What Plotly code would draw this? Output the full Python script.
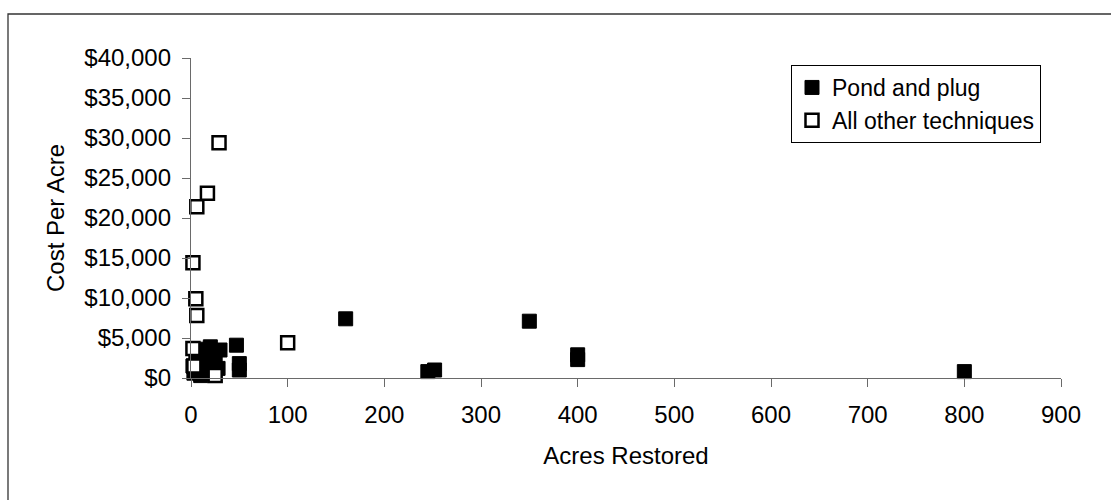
import plotly.graph_objects as go

# Pond and plug (filled squares)
pond_acres = [160, 350, 400, 400, 245, 252, 800, 47, 50, 50, 30, 20,
              5, 8, 10, 12, 15, 18, 22, 25, 3, 6, 10, 14, 28, 2, 20, 12]
pond_cost = [7400, 7100, 2900, 2300, 800, 1000, 800, 4100, 1800, 1000, 3500, 3900,
             2000, 1200, 500, 2600, 1500, 3000, 1000, 1800, 600, 900, 300, 800, 1200, 1500, 2200, 3600]

# All other techniques (open squares)
other_acres = [29, 17, 6, 2, 5, 6, 2, 100, 25, 3]
other_cost = [29400, 23100, 21400, 14400, 9900, 7800, 3700, 4400, 300, 1500]

x_ticks = [0, 100, 200, 300, 400, 500, 600, 700, 800, 900]
y_ticks = [0, 5000, 10000, 15000, 20000, 25000, 30000, 35000, 40000]

FONT = "Arial, Liberation Sans, sans-serif"
FS = 24

fig = go.Figure()
fig.add_trace(go.Scatter(
    x=pond_acres, y=pond_cost, mode="markers", name="Pond and plug",
    marker=dict(symbol="square", size=14, color="black", line=dict(color="black", width=1)),
    cliponaxis=False,
))
fig.add_trace(go.Scatter(
    x=other_acres, y=other_cost, mode="markers", name="All other techniques",
    marker=dict(symbol="square", size=13, color="white", line=dict(color="black", width=2.5)),
    cliponaxis=False,
))

L, R, T, B = 191, 50, 58, 122
W, H = 1111, 500
pw, ph = W - L - R, H - T - B

def px2x(p):
    return (p - L) / pw

def px2y(p):
    return (H - B - p) / ph

fig.update_layout(
    width=W, height=H,
    margin=dict(l=L, r=R, t=T, b=B, pad=0),
    paper_bgcolor="white", plot_bgcolor="white",
    font=dict(family=FONT, size=FS, color="black"),
    showlegend=True,
    legend=dict(
        x=px2x(791), y=px2y(65), xanchor="left", yanchor="top",
        bgcolor="white", bordercolor="black", borderwidth=1,
        font=dict(family=FONT, size=FS - 1, color="black"),
        itemwidth=30, tracegroupgap=0,
    ),
    xaxis=dict(
        range=[0, 900], tickvals=x_ticks, ticktext=[str(v) for v in x_ticks],
        showline=True, linecolor="#6a6a6a", linewidth=1.3,
        ticks="outside", ticklen=8, tickcolor="#6a6a6a", tickwidth=1.3,
        showgrid=False, zeroline=False,
        title=dict(text="Acres Restored", font=dict(size=FS), standoff=20),
        ticklabelstandoff=7,
    ),
    yaxis=dict(
        range=[0, 40000], tickvals=y_ticks,
        ticktext=["$" + f"{v:,}" for v in y_ticks],
        showline=True, linecolor="#6a6a6a", linewidth=1.3,
        ticks="outside", ticklen=8, tickcolor="#6a6a6a", tickwidth=1.3,
        showgrid=False, zeroline=False,
        title=dict(text="Cost Per Acre", font=dict(size=FS), standoff=12),
        ticklabelstandoff=6,
    ),
    shapes=[dict(
        type="rect", xref="paper", yref="paper",
        x0=px2x(8), x1=px2x(1130), y0=px2y(520), y1=px2y(14),
        line=dict(color="#333333", width=1.3), fillcolor="rgba(0,0,0,0)", layer="below",
    )],
)

fig.write_html("out.html")
